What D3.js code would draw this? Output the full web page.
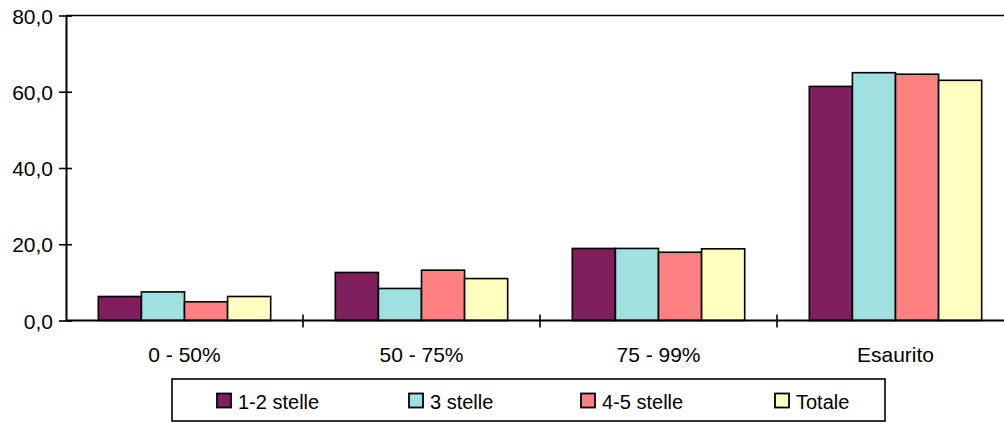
<!DOCTYPE html>
<html><head><meta charset="utf-8">
<script src="https://cdn.jsdelivr.net/npm/d3@7"></script>
<style>body{margin:0;background:#fff}svg{display:block}text{font-family:"Liberation Sans",Arial,sans-serif}</style>
</head><body><svg id="c" width="1004" height="423"></svg>
<script>
const categories = ["0 - 50%", "50 - 75%", "75 - 99%", "Esaurito"];
const seriesNames = ["1-2 stelle", "3 stelle", "4-5 stelle", "Totale"];
const v12 = [6.3, 12.6, 18.9, 61.4];
const v3 = [7.5, 8.4, 18.9, 65.0];
const v45 = [4.9, 13.2, 17.9, 64.6];
const vTot = [6.3, 11.0, 18.8, 63.0];
const yTicks = [0, 20, 40, 60, 80];
const colors = ["#801F5E", "#A0E0E0", "#FF8080", "#FFFFC0"];
const seriesValues = [v12, v3, v45, vTot];

const svg = d3.select("#c");
const plotLeft = 66, plotTop = 15.5, plotBottom = 320.5, bandW = 237;
const x = d3.scaleBand().domain(categories).range([plotLeft, plotLeft + bandW * categories.length]).padding(0);
const x1 = d3.scaleBand().domain(seriesNames).range([0, x.bandwidth()]).paddingInner(0).paddingOuter(0.75);
const y = d3.scaleLinear().domain([0, 80]).range([plotBottom, plotTop]);
const fmt = d3.formatLocale({decimal: ",", thousands: ".", grouping: [3], currency: ["", "€"]}).format(".1f");

// top border line
svg.append("line").attr("x1", plotLeft).attr("x2", 1004).attr("y1", y(80)).attr("y2", y(80)).attr("stroke", "#000").attr("stroke-width", 1.3);

// bars
categories.forEach((c, i) => {
  seriesNames.forEach((s, j) => {
    const val = seriesValues[j][i];
    svg.append("rect")
      .attr("x", x(c) + x1(s))
      .attr("y", y(val))
      .attr("width", x1.bandwidth())
      .attr("height", y(0) - y(val))
      .attr("fill", colors[j])
      .attr("stroke", "#000").attr("stroke-width", 1.6);
  });
});

// y axis
const yAx = svg.append("g").attr("transform", `translate(${plotLeft},0)`)
  .call(d3.axisLeft(y).tickValues(yTicks).tickFormat(fmt).tickSize(0).tickPadding(13));
yAx.attr("font-size", null).attr("font-family", null);
yAx.select(".domain").attr("stroke", "#000").attr("stroke-width", 2);
yAx.selectAll(".tick text").style("font-size", "21px").attr("fill", "#000").attr("x", -13).attr("dy", "0.36em");
yAx.selectAll(".tick").append("line").attr("x1", -7).attr("x2", 6).attr("stroke", "#000").attr("stroke-width", 1.6);

// x axis
const xAx = svg.append("g").attr("transform", `translate(0,${plotBottom})`);
xAx.append("line").attr("x1", plotLeft).attr("x2", 1004).attr("stroke", "#000").attr("stroke-width", 2);
categories.forEach((c, i) => {
  const bx = x(c) + x.bandwidth();
  xAx.append("line").attr("x1", bx).attr("x2", bx).attr("y1", -6).attr("y2", 7).attr("stroke", "#000").attr("stroke-width", 1.6);
  xAx.append("text").attr("x", x(c) + x.bandwidth() / 2).attr("y", 41.5).attr("text-anchor", "middle")
    .style("font-size", "21px").attr("fill", "#000").text(c);
});

// legend
const lg = svg.append("g");
lg.append("rect").attr("x", 172).attr("y", 379).attr("width", 713).attr("height", 42).attr("fill", "#fff").attr("stroke", "#000").attr("stroke-width", 1.6);
const legX = [217, 409, 581, 775];
seriesNames.forEach((s, j) => {
  lg.append("rect").attr("x", legX[j]).attr("y", 393.5).attr("width", 14).attr("height", 14).attr("fill", colors[j]).attr("stroke", "#000").attr("stroke-width", 1.8);
  lg.append("text").attr("x", legX[j] + 21).attr("y", 409).style("font-size", "20px").attr("fill", "#000").text(s);
});
</script></body></html>
